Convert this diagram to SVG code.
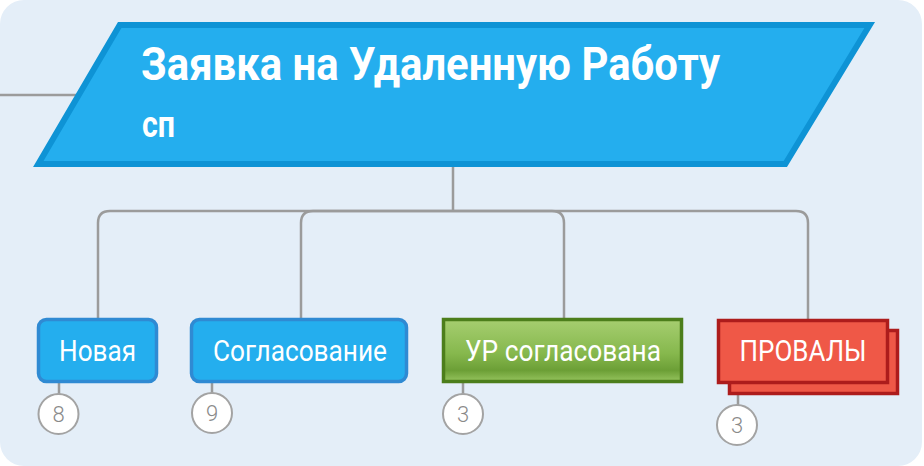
<svg xmlns="http://www.w3.org/2000/svg" width="924" height="466" viewBox="0 0 924 466">
<defs>
<linearGradient id="gGreen" x1="0" y1="0" x2="0" y2="1">
<stop offset="0" stop-color="#a6ce70"/>
<stop offset="0.55" stop-color="#86b84d"/>
<stop offset="0.82" stop-color="#6c9f36"/>
<stop offset="1" stop-color="#96c45e"/>
</linearGradient>
<style>
.conn{fill:none;stroke:#9b9b9b;stroke-width:2.5}
.cnt{fill:#ffffff;stroke:#a3a3a3;stroke-width:2}
.cntt{font-family:Roboto,"Liberation Sans",sans-serif;font-weight:300;font-size:22px;fill:#8a8a8a;text-anchor:middle}
.lbl{font-family:Roboto,"Liberation Sans",sans-serif;font-size:29px;fill:#ffffff;text-anchor:middle}
.blue{fill:#24aeee;stroke:#2f8ad3;stroke-width:3.5}
.red{fill:#ef5847;stroke:#ad1c1c;stroke-width:3.5}
</style>
</defs>
<rect x="0" y="0" width="922" height="466" rx="24" fill="#e4eef8"/>
<g id="connectors">
<line class="conn" x1="0" y1="95" x2="80" y2="95"/>
<path class="conn" d="M453,167 V211"/>
<path class="conn" d="M453,211 H110 Q98,211 98,223 V318"/>
<path class="conn" d="M453,211 H313 Q301,211 301,223 V318"/>
<path class="conn" d="M453,211 H552 Q564,211 564,223 V318"/>
<path class="conn" d="M453,211 H796 Q808,211 808,223 V319"/>
<path class="conn" d="M59,383 V394"/>
<path class="conn" d="M212,383 V393"/>
<path class="conn" d="M463,383 V394"/>
<path class="conn" d="M738,395 V405"/>
</g>
<g id="root">
<path d="M119.7,25 L869.7,25 L785.3,164 L38.3,164 Z" fill="#24aeee" stroke="#0e93d5" stroke-width="6" stroke-linejoin="miter"/>
<text x="141" y="80" font-family="Roboto,'Liberation Sans',sans-serif" font-weight="700" font-size="46" fill="#ffffff" textLength="579" lengthAdjust="spacingAndGlyphs">Заявка на Удаленную Работу</text>
<text x="142" y="137" font-family="Roboto,'Liberation Sans',sans-serif" font-weight="700" font-size="36" fill="#ffffff" textLength="33" lengthAdjust="spacingAndGlyphs">сп</text>
</g>
<g id="node-novaya">
<rect class="blue" x="38.5" y="319.5" width="118" height="62" rx="8"/>
<text class="lbl" x="97.5" y="361" textLength="77" lengthAdjust="spacingAndGlyphs">Новая</text>
<circle class="cnt" cx="58.5" cy="414" r="20"/>
<text class="cntt" x="58.5" y="422">8</text>
</g>
<g id="node-soglasovanie">
<rect class="blue" x="191.5" y="319.5" width="215" height="62" rx="8"/>
<text class="lbl" x="300" y="361" textLength="174" lengthAdjust="spacingAndGlyphs">Согласование</text>
<circle class="cnt" cx="212" cy="413" r="20"/>
<text class="cntt" x="212" y="421">9</text>
</g>
<g id="node-ur">
<rect x="443.5" y="319.5" width="238" height="62" fill="url(#gGreen)" stroke="#4c7e1b" stroke-width="3.5"/>
<text class="lbl" x="563" y="361" textLength="196" lengthAdjust="spacingAndGlyphs">УР согласована</text>
<circle class="cnt" cx="463" cy="414" r="20"/>
<text class="cntt" x="463" y="422">3</text>
</g>
<g id="node-provaly">
<rect class="red" x="729.5" y="330.5" width="168" height="63"/>
<rect class="red" x="718.5" y="320.5" width="169" height="62"/>
<text class="lbl" x="803" y="361" textLength="127" lengthAdjust="spacingAndGlyphs">ПРОВАЛЫ</text>
<circle class="cnt" cx="737" cy="425" r="20"/>
<text class="cntt" x="737" y="433">3</text>
</g>
</svg>
